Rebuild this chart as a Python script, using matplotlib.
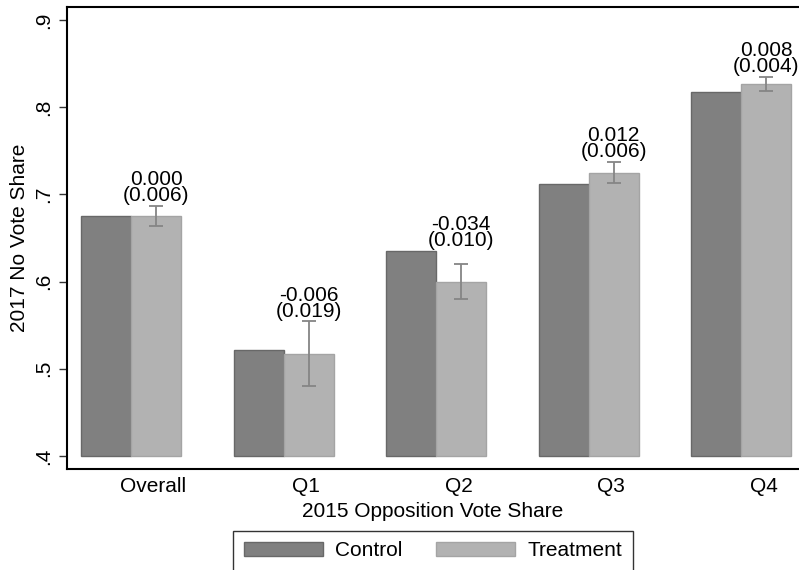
import numpy as np
import matplotlib.pyplot as plt
from matplotlib.patches import Patch

plt.rcParams['font.family'] = ['Liberation Sans', 'DejaVu Sans']

groups = ["Overall", "Q1", "Q2", "Q3", "Q4"]
control = [0.675, 0.522, 0.635, 0.712, 0.818]
treatment = [0.675, 0.517, 0.600, 0.725, 0.827]
effect = ["0.000", "-0.006", "-0.034", "0.012", "0.008"]
se = [0.006, 0.019, 0.010, 0.006, 0.004]

c_ctrl = "#808080"
c_treat = "#b2b2b2"
fs = 15

fig = plt.figure(figsize=(7.99, 5.70), dpi=100)
ax = fig.add_axes([67 / 799, 1 - 469 / 570, 732 / 799, (469 - 7) / 570])

x = np.arange(len(groups))
w = 0.328
base = 0.4
ax.bar(x - w / 2, np.array(control) - base, w, bottom=base, color=c_ctrl,
       edgecolor="#686868", linewidth=1)
ax.bar(x + w / 2, np.array(treatment) - base, w, bottom=base, color=c_treat,
       edgecolor="#a4a4a4", linewidth=1)

ci = 1.96 * np.array(se)
ax.errorbar(x + w / 2, treatment, yerr=ci, fmt="none", ecolor="#858585",
            elinewidth=1.3, capsize=5, capthick=1.3)

for i in range(len(groups)):
    top = max(control[i], treatment[i] + ci[i])
    ax.text(x[i] + w / 2, top + 0.001, f"{effect[i]}\n({se[i]:.3f})",
            ha="center", va="bottom", fontsize=fs, linespacing=0.8)

ax.set_xlim(-0.42, -0.42 + 732 / 152.5)
ax.set_ylim(0.385, 0.915)
ax.set_yticks([0.4, 0.5, 0.6, 0.7, 0.8, 0.9])
ax.set_yticklabels([".4", ".5", ".6", ".7", ".8", ".9"], rotation=90, va="center", fontsize=fs)
ax.set_xticks(x + w * 0.45)
ax.set_xticklabels(groups, fontsize=fs)
ax.tick_params(axis="x", length=0, pad=6)
ax.tick_params(axis="y", length=6, width=1, color="#333333", pad=4)
ax.spines["right"].set_visible(False)
for s in ["left", "bottom", "top"]:
    ax.spines[s].set_linewidth(1.5)
ax.set_ylabel("2017 No Vote Share", fontsize=fs, labelpad=4)
ax.set_xlabel("2015 Opposition Vote Share", fontsize=fs, labelpad=4)

handles = [Patch(facecolor=c_ctrl, edgecolor="#686868", label="Control"),
           Patch(facecolor=c_treat, edgecolor="#a4a4a4", label="Treatment")]
fig.legend(handles=handles, loc="upper center", bbox_to_anchor=(433 / 799, 1 - 531 / 570), ncol=2,
           fontsize=fs, frameon=True, fancybox=False, edgecolor="black",
           handlelength=3.8, handleheight=0.6, handletextpad=0.6, columnspacing=1.6,
           borderpad=0.5, borderaxespad=0)

fig.savefig("out.png", dpi=100)
